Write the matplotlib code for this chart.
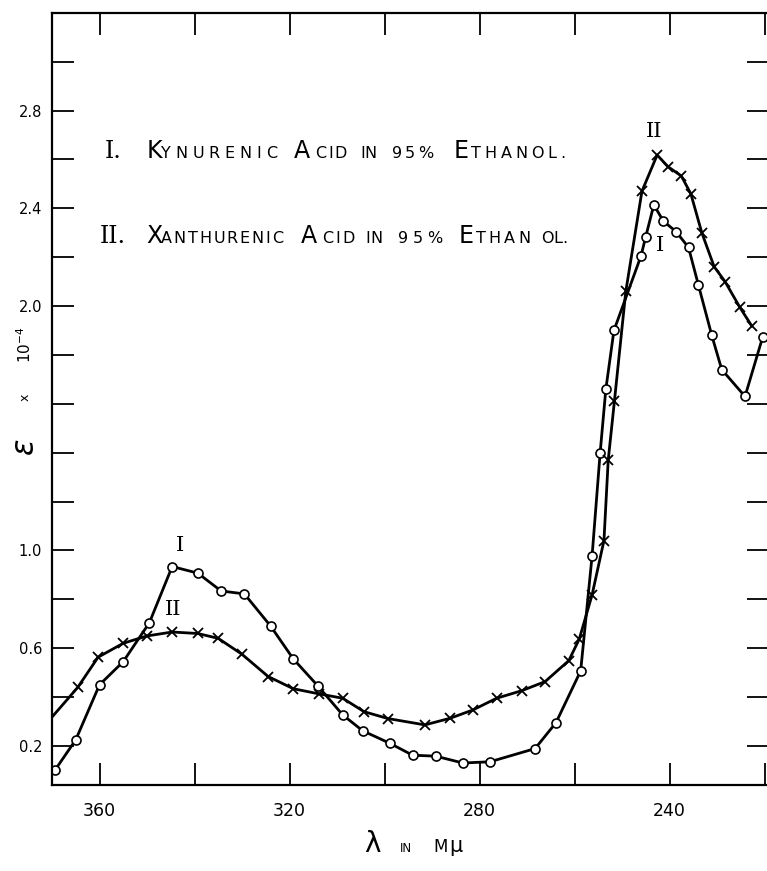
import numpy as np
import matplotlib.pyplot as plt

# Curva I: acido kinurenico (circulos)
wl_kyn = [369.4, 365, 360, 355, 349.5, 344.7, 339.3, 334.4, 329.5, 324, 319.2, 314.1,
          308.8, 304.6, 298.8, 294.1, 289.2, 283.5, 277.8, 268.3, 263.9, 258.7, 256.3,
          254.6, 253.4, 251.7, 246, 245, 243.3, 241.3, 238.6, 236, 233.9, 231.1,
          229, 224.1, 220.4]
eps_kyn = [0.10, 0.225, 0.45, 0.545, 0.704, 0.934, 0.907, 0.834, 0.822, 0.691, 0.556, 0.447,
           0.327, 0.262, 0.21, 0.162, 0.158, 0.13, 0.135, 0.189, 0.295, 0.507, 0.977,
           1.40, 1.66, 1.90, 2.205, 2.284, 2.414, 2.348, 2.304, 2.24, 2.085, 1.88,
           1.74, 1.63, 1.872]

# Curva II: acido xanturenico (cruces)
wl_xan = [370, 364.6, 360.3, 355, 350, 344.7, 339.3, 335, 330, 324.5, 319.2, 313.8,
          308.8, 304.3, 299.3, 291.5, 286.2, 281.4, 276.4, 271.1, 266.2, 261.2, 259.0,
          256.3, 253.8, 252.9, 251.6, 249.2, 245.8, 242.6, 240.3, 237.5, 235.5, 233.2,
          230.6, 228.3, 225.2, 222.7]
eps_xan = [0.318, 0.439, 0.563, 0.62, 0.65, 0.666, 0.66, 0.64, 0.575, 0.484, 0.434, 0.413,
           0.395, 0.34, 0.312, 0.286, 0.313, 0.347, 0.395, 0.426, 0.463, 0.549, 0.637,
           0.818, 1.04, 1.37, 1.61, 2.06, 2.47, 2.618, 2.57, 2.532, 2.459, 2.30,
           2.161, 2.10, 1.995, 1.919]

x_ticks = [360, 340, 320, 300, 280, 260, 240, 220]
x_labels = ['360', '', '320', '', '280', '', '240', '']
y_ticks = np.round(np.arange(0.2, 3.01, 0.2), 1)
y_labeled = [0.2, 0.6, 1.0, 2.0, 2.4, 2.8]

W, H = 767, 871
fig = plt.figure(figsize=(W / 100, H / 100), dpi=100)
ax = fig.add_axes([52 / W, (H - 785) / H, 717.25 / W, (785 - 12.8) / H])

ax.plot(wl_kyn, eps_kyn, color='black', lw=2.0, marker='o', ms=6.5,
        mfc='white', mec='black', mew=1.2)
ax.plot(wl_xan, eps_xan, color='black', lw=2.0, marker='x', ms=7,
        mew=1.3, markevery=list(range(1, len(wl_xan))))

ax.set_xlim(370, 219)
ax.set_ylim(0.04, 3.2)

ax.set_xticks(x_ticks)
ax.set_xticklabels(x_labels, fontsize=12.5)
ax.set_yticks(y_ticks)
ax.set_yticklabels([f'{v:.1f}' if v in y_labeled else '' for v in y_ticks], fontsize=10.5)
ax.tick_params(direction='in', length=16, width=1.3, top=True, right=True, color='black')
ax.tick_params(axis='x', pad=12)
ax.tick_params(axis='y', pad=7)
for s in ['left', 'top', 'bottom']:
    ax.spines[s].set_linewidth(1.6)
ax.spines['right'].set_visible(False)

# etiquetas de las curvas
serif = 'DejaVu Serif'
ax.text(343.1, 1.02, 'I', fontsize=15, family=serif, ha='center', va='center')
ax.text(344.6, 0.757, 'II', fontsize=15, family=serif, ha='center', va='center')
ax.text(243.3, 2.713, 'II', fontsize=15, family=serif, ha='center', va='center')
ax.text(242.0, 2.246, 'I', fontsize=15, family=serif, ha='center', va='center')

renderer = fig.canvas.get_renderer()


def put(x, y, s, size, family='DejaVu Sans'):
    return fig.text(x / W, (H - y) / H, s, fontsize=size, family=family,
                    ha='left', va='baseline')


def spread(x0, x1, y, s, size):
    # reparte las letras entre x0 y x1 (versalitas espaciadas)
    arts = [put(0, y, c, size) for c in s]
    widths = [a.get_window_extent(renderer).width for a in arts]
    gap = (x1 - x0 - sum(widths)) / max(len(s) - 1, 1)
    x = x0
    for a, w in zip(arts, widths):
        a.set_x(x / W)
        x += w + gap


big, small = 17, 11.5
y1, y2 = 158, 243
put(105, y1, 'I.', big, serif)
put(147, y1, 'K', big)
spread(161, 277, y1, 'YNURENIC', small)
put(294, y1, 'A', big)
spread(315, 347, y1, 'CID', small)
spread(360, 377, y1, 'IN', small)
spread(392, 433, y1, '95%', small)
put(454, y1, 'E', big)
spread(471, 565, y1, 'THANOL.', small)

put(100, y2, 'II.', big, serif)
put(146, y2, 'X', big)
spread(161, 283, y2, 'ANTHURENIC', small)
put(301, y2, 'A', big)
spread(322, 355, y2, 'CID', small)
spread(365, 382, y2, 'IN', small)
spread(398, 442, y2, '95%', small)
put(459, y2, 'E', big)
spread(476, 530, y2, 'THAN', small)
spread(541, 567, y2, 'OL.', small)

# eje x
put(364, 852, 'λ', 20)
put(400, 852, 'IN', 8.5)
put(433, 852, 'M', 12)
put(449, 852, 'μ', 15)

# eje y
fig.text(25 / W, (H - 447) / H, r'$\epsilon$', fontsize=22, rotation=90, ha='center', va='center')
fig.text(25 / W, (H - 397) / H, 'x', fontsize=9, rotation=90, ha='center', va='center')
fig.text(25 / W, (H - 345) / H, r'10$^{-4}$', fontsize=11, rotation=90, ha='center', va='center')

fig.savefig('out.png', dpi=100)
